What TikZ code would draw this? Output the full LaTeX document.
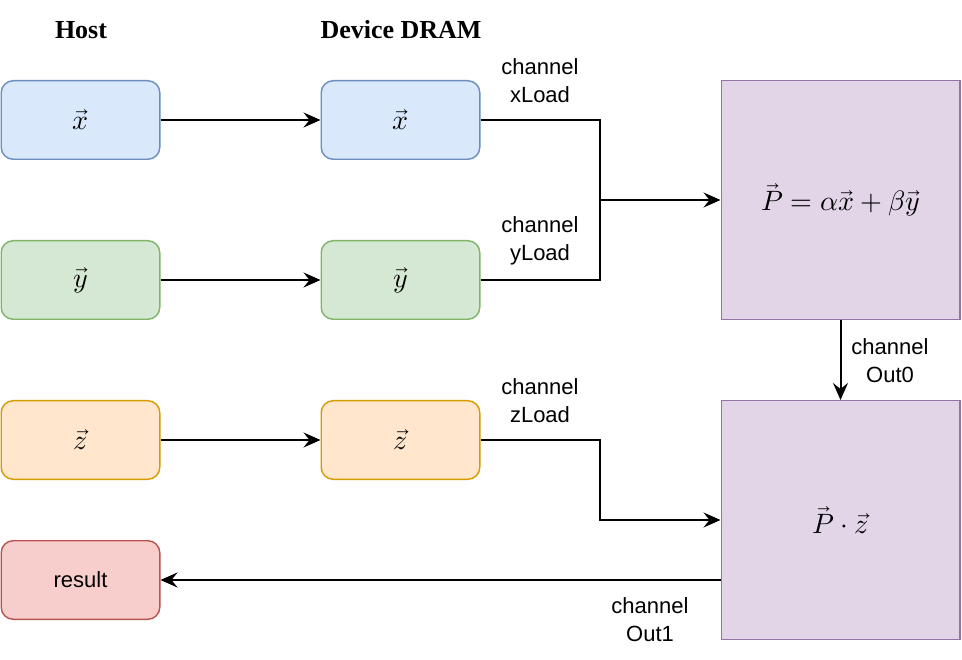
\documentclass[tikz,border=0pt]{standalone}
\usepackage{fontspec}
\usepackage{unicode-math}
\setmathfont{Latin Modern Math}
\newfontfamily\lsans{Liberation Sans}
\newfontfamily\lserif{Liberation Serif}
\usetikzlibrary{arrows.meta}
\definecolor{bluefill}{HTML}{DAE8FC}\definecolor{bluedraw}{HTML}{6C8EBF}
\definecolor{greenfill}{HTML}{D5E8D4}\definecolor{greendraw}{HTML}{82B366}
\definecolor{orangefill}{HTML}{FFE6CC}\definecolor{orangedraw}{HTML}{D79B00}
\definecolor{redfill}{HTML}{F8CECC}\definecolor{reddraw}{HTML}{B85450}
\definecolor{purplefill}{HTML}{E1D5E7}\definecolor{purpledraw}{HTML}{9673A6}
\tikzset{
  box/.style={draw, rounded corners=12pt, line width=1.4pt, minimum width=158.6pt, minimum height=78.6pt, inner sep=0pt, font=\fontsize{28}{32}\selectfont},
  bigbox/.style={draw=purpledraw, fill=purplefill, line width=1.4pt, minimum width=238.6pt, minimum height=238.6pt, inner sep=0pt, font=\fontsize{28}{32}\selectfont},
  lbl/.style={align=center, inner sep=0pt, font=\lsans\fontsize{22}{28}\selectfont},
  hdr/.style={inner sep=0pt, font=\lserif\bfseries\fontsize{26}{30}\selectfont},
  conn/.style={line width=2pt},
  arr/.style={conn, -{Stealth[length=17pt,width=15pt,inset=6pt]}}
}
\begin{document}
\begin{tikzpicture}[x=1pt,y=-1pt]
\useasboundingbox (0,0) rectangle (962,660);
\node[hdr] (hhost) at (81,30) {Host};
\node[hdr] (hdev) at (401,30) {Device DRAM};
\node[box, draw=bluedraw, fill=bluefill] (hx) at (80.5,120) {$\vec{x}$};
\node[box, draw=greendraw, fill=greenfill] (hy) at (80.5,280) {$\vec{y}$};
\node[box, draw=orangedraw, fill=orangefill] (hz) at (80.5,440) {$\vec{z}$};
\node[box, draw=reddraw, fill=redfill, font=\lsans\fontsize{22}{26}\selectfont] (res) at (80.5,580) {result};
\node[box, draw=bluedraw, fill=bluefill] (dx) at (400.5,120) {$\vec{x}$};
\node[box, draw=greendraw, fill=greenfill] (dy) at (400.5,280) {$\vec{y}$};
\node[box, draw=orangedraw, fill=orangefill] (dz) at (400.5,440) {$\vec{z}$};
\node[bigbox] (p1) at (840.5,200) {$\vec{P}=\alpha\vec{x}+\beta\vec{y}$};
\node[bigbox] (p2) at (840.5,520) {$\vec{P}\cdot\vec{z}$};
\coordinate (j1) at (600,200);
\coordinate (j2) at (600,520);
\draw[arr] (hx) -- (dx);
\draw[arr] (hy) -- (dy);
\draw[arr] (hz) -- (dz);
\draw[conn] (dx.east) -| (j1);
\draw[conn] (dy.east) -| (j1);
\draw[arr] (j1) -- (p1.west);
\draw[arr] (dz.east) -| (j2) -- (p2.west);
\draw[arr] (p1.south) -- (p2.north);
\draw[arr] (p2.west |- res.east) -- (res.east);
\node[lbl] (lx) at (540,81) {channel\\xLoad};
\node[lbl] (ly) at (540,241) {channel\\yLoad};
\node[lbl] (lz) at (540,401) {channel\\zLoad};
\node[lbl] (l0) at (890,361) {channel\\Out0};
\node[lbl] (l1) at (650,620) {channel\\Out1};
\end{tikzpicture}
\end{document}
